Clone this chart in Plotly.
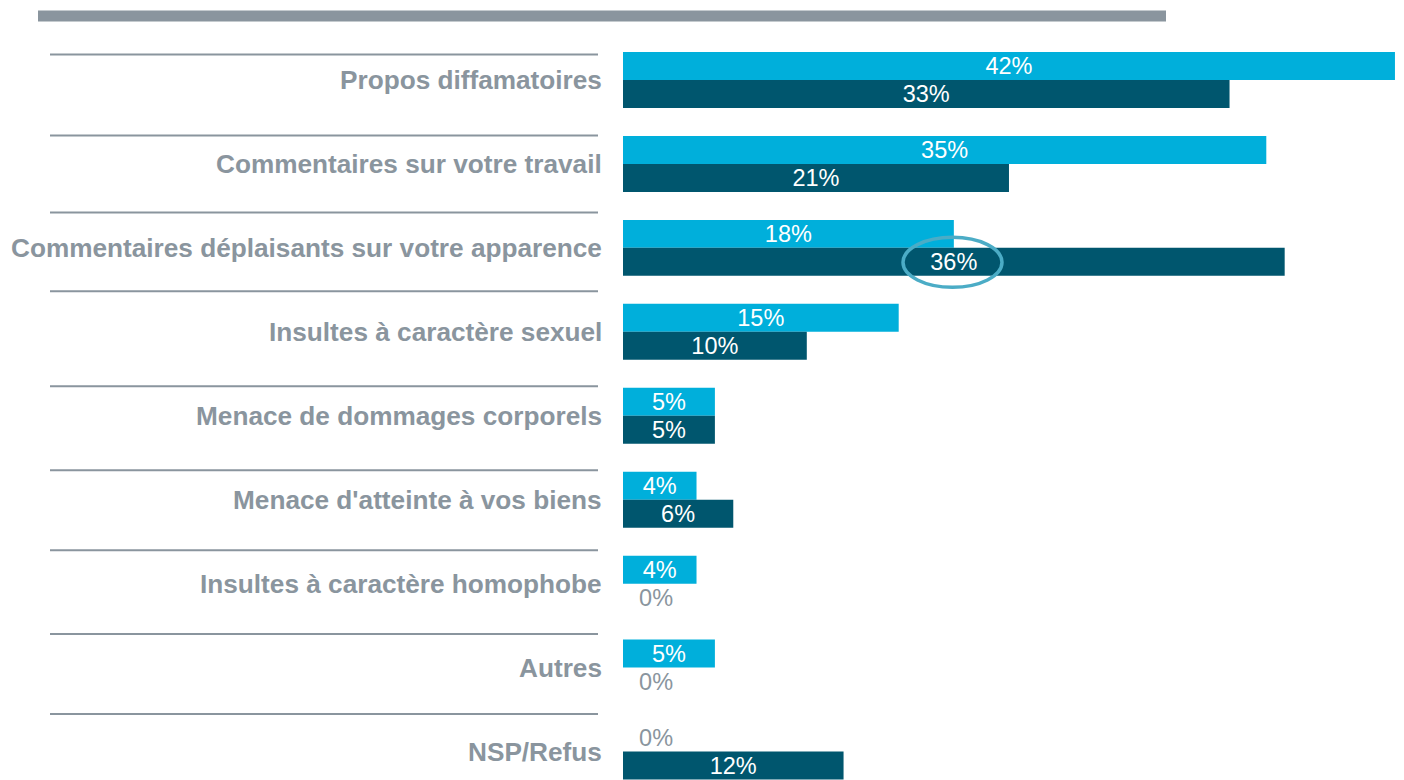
import plotly.graph_objects as go

# Data
categories = ["Propos diffamatoires", "Commentaires sur votre travail",
              "Commentaires déplaisants sur votre apparence", "Insultes à caractère sexuel",
              "Menace de dommages corporels", "Menace d'atteinte à vos biens",
              "Insultes à caractère homophobe", "Autres", "NSP/Refus"]
serie_claire = [42, 35, 18, 15, 5, 4, 4, 5, 0]
serie_foncee = [33, 21, 36, 10, 5, 6, 0, 0, 12]

W, H = 1404, 780
PL, PT = 623, 37.5          # plot area left / top in pixels
PW, PH = W - PL, H - PT

def px(x):
    return (x - PL) / PW

def py(y):
    return (H - y) / PH

LIGHT = "#00AFDB"
DARK = "#00566E"
GREY = "#8A959E"
FONT = "Liberation Sans, Arial, sans-serif"

ypos = list(range(len(categories)))

fig = go.Figure()
for vals, col in [(serie_claire, LIGHT), (serie_foncee, DARK)]:
    fig.add_trace(go.Bar(
        y=ypos, x=vals, orientation="h", marker=dict(color=col, line=dict(width=0)),
        text=[f"{v}%" if v > 0 else "\u00a0\u00a00%" for v in vals],
        textposition=["inside" if v > 0 else "outside" for v in vals],
        insidetextanchor="middle", constraintext="none",
        insidetextfont=dict(color="white", size=23.5, family=FONT),
        outsidetextfont=dict(color=GREY, size=23.5, family=FONT),
        textangle=0, cliponaxis=False, hoverinfo="skip",
    ))

fig.update_layout(
    width=W, height=H, barmode="group", bargap=1/3, bargroupgap=0,
    margin=dict(l=PL, r=0, t=PT, b=0),
    plot_bgcolor="white", paper_bgcolor="white", showlegend=False,
    xaxis=dict(range=[0, (W - PL) / 18.38], visible=False, fixedrange=True),
    yaxis=dict(range=[-0.5 + PH / 84, -0.5], visible=False, fixedrange=True),
)

# category labels
for i, c in enumerate(categories):
    fig.add_annotation(x=px(604), xref="paper", y=i, yref="y", text=f"<b>{c}</b>",
                       xanchor="right", yanchor="middle", showarrow=False,
                       font=dict(size=26.2, color=GREY, family=FONT))

# separator lines
sep_y = [54, 135, 212, 291, 386, 470, 550, 634, 714]
for y in sep_y:
    fig.add_shape(type="line", xref="paper", yref="paper", x0=px(50), x1=px(598),
                  y0=py(y), y1=py(y), line=dict(color=GREY, width=2))

# top grey band
fig.add_shape(type="rect", xref="paper", yref="paper", x0=px(38), x1=px(1166),
              y0=py(10), y1=py(21), fillcolor=GREY, line=dict(width=0))

# highlight ellipse
fig.add_shape(type="circle", xref="paper", yref="paper", x0=px(903), x1=px(1002),
              y0=py(237), y1=py(287), line=dict(color="#4BACC6", width=3.5))

fig.write_html("out.html", config={"displayModeBar": False},
               post_script="document.body.style.margin='0';")
